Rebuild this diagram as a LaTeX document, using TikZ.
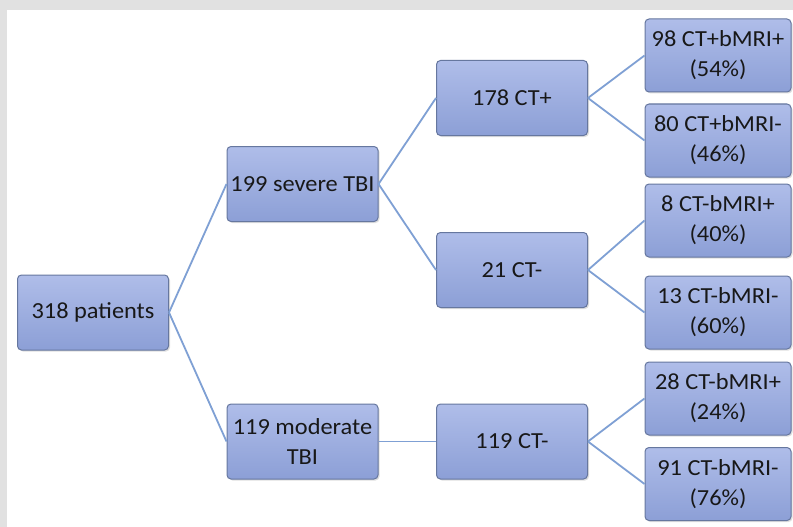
\documentclass[tikz,border=0pt]{standalone}
\usepackage{fontspec}
\setmainfont{Carlito}[FakeStretch=1.06]
\usetikzlibrary{shadows}
\definecolor{frame}{HTML}{E1E1E1}
\definecolor{boxtop}{HTML}{AFBDE9}
\definecolor{boxbot}{HTML}{8C9FD6}
\definecolor{boxline}{HTML}{66779F}
\definecolor{link}{HTML}{7FA0D4}
\definecolor{ink}{HTML}{181818}
\tikzset{
  box/.style={rectangle, rounded corners=4pt, draw=boxline, line width=1pt,
    top color=boxtop, bottom color=boxbot, text=ink,
    minimum width=151pt, minimum height=75pt, inner sep=1pt, align=center,
    font=\fontsize{23}{30}\selectfont,
    drop shadow={shadow xshift=1.5pt, shadow yshift=-1.5pt, opacity=0.25}},
  leaf/.style={box, minimum width=146pt, minimum height=73pt},
  link/.style={draw=link, line width=1.8pt}
}
\begin{document}
\begin{tikzpicture}[x=1pt,y=-1pt]
  % page and grey frame
  \fill[frame] (0,0) rectangle (793,527);
  \fill[white] (7,10) rectangle (793,527);
  \useasboundingbox (0,0) rectangle (793,527);

  % boxes
  \node[box] (P) at (93,312.5) {318 patients};
  \node[box] (S) at (302.5,184) {199 severe TBI};
  \node[box] (M) at (302.5,441.5) {119 moderate\\TBI};
  \node[box] (A) at (512,98) {178 CT+};
  \node[box] (B) at (512,270) {21 CT-};
  \node[box] (C) at (512,441.5) {119 CT-};
  \node[leaf] (R1) at (718,55.5) {98 CT+bMRI+\\(54\%)};
  \node[leaf] (R2) at (718,140.5) {80 CT+bMRI-\\(46\%)};
  \node[leaf] (R3) at (718,220.5) {8 CT-bMRI+\\(40\%)};
  \node[leaf] (R4) at (718,312.5) {13 CT-bMRI-\\(60\%)};
  \node[leaf] (R5) at (718,398.5) {28 CT-bMRI+\\(24\%)};
  \node[leaf] (R6) at (718,484) {91 CT-bMRI-\\(76\%)};

  % connectors
  \draw[link] (P.east) -- (S.west);
  \draw[link] (P.east) -- (M.west);
  \draw[link] (S.east) -- (A.west);
  \draw[link] (S.east) -- (B.west);
  \draw[link] (M.east) -- (C.west);
  \draw[link] (A.east) -- (R1.west);
  \draw[link] (A.east) -- (R2.west);
  \draw[link] (B.east) -- (R3.west);
  \draw[link] (B.east) -- (R4.west);
  \draw[link] (C.east) -- (R5.west);
  \draw[link] (C.east) -- (R6.west);
\end{tikzpicture}
\end{document}
